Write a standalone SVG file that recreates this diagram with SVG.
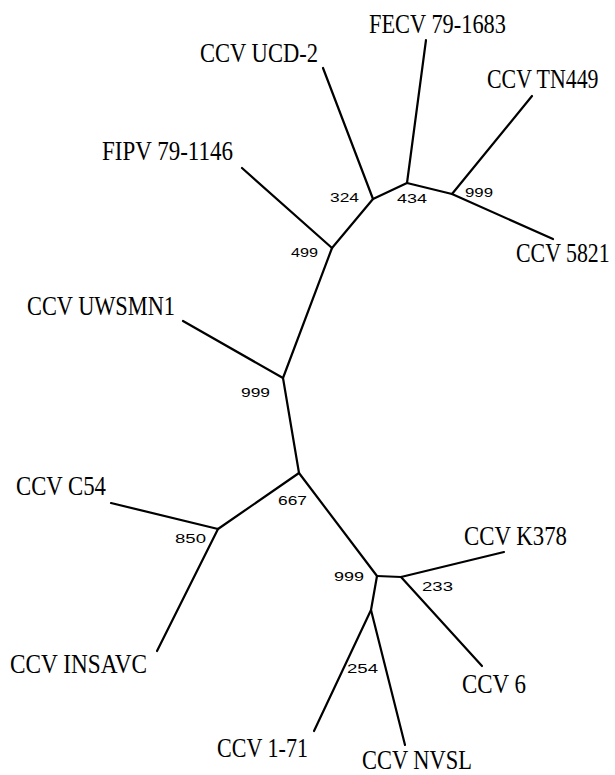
<svg xmlns="http://www.w3.org/2000/svg" width="615" height="775" viewBox="0 0 615 775">
<style>
.e{stroke:#000;stroke-width:2.2;fill:none;stroke-linecap:round;stroke-linejoin:round}
.t{font-family:"Liberation Serif","Times New Roman",serif;font-size:27px;fill:#000}
.b{font-family:"Liberation Sans",Arial,sans-serif;font-size:12px;fill:#000}
</style>
<rect width="615" height="775" fill="#fff"/>
<g id="connectors">
<path class="e" d="M332,248 L283,378 L299,473 L377,576"/>
<path class="e" d="M332,248 L373,199 L407,183 L452,194"/>
<path class="e" d="M332,248 L242,168"/>
<path class="e" d="M373,199 L323,68"/>
<path class="e" d="M407,183 L426,40"/>
<path class="e" d="M452,194 L532,96"/>
<path class="e" d="M452,194 L553,239"/>
<path class="e" d="M283,378 L183,321"/>
<path class="e" d="M299,473 L218,529 L111,503"/>
<path class="e" d="M218,529 L157,651"/>
<path class="e" d="M377,576 L401,577 L504,552"/>
<path class="e" d="M401,577 L482,666"/>
<path class="e" d="M377,576 L371,610 L314,731"/>
<path class="e" d="M371,610 L405,745"/>
</g>
<g id="leaf-ucd2"><text class="t" x="200" y="62" textLength="118" lengthAdjust="spacingAndGlyphs">CCV UCD-2</text></g>
<g id="leaf-fecv"><text class="t" x="369" y="33" textLength="137" lengthAdjust="spacingAndGlyphs">FECV 79-1683</text></g>
<g id="leaf-tn449"><text class="t" transform="translate(487,88) scale(0.81,1)">CCV TN449</text></g>
<g id="leaf-fipv"><text class="t" x="102" y="160" textLength="131" lengthAdjust="spacingAndGlyphs">FIPV 79-1146</text></g>
<g id="leaf-5821"><text class="t" transform="translate(516,262) scale(0.81,1)">CCV 5821</text></g>
<g id="leaf-uwsmn1"><text class="t" x="27" y="315" textLength="148" lengthAdjust="spacingAndGlyphs">CCV UWSMN1</text></g>
<g id="leaf-c54"><text class="t" x="16" y="495" textLength="90" lengthAdjust="spacingAndGlyphs">CCV C54</text></g>
<g id="leaf-insavc"><text class="t" x="10" y="673" textLength="137" lengthAdjust="spacingAndGlyphs">CCV INSAVC</text></g>
<g id="leaf-k378"><text class="t" x="464" y="545" textLength="103" lengthAdjust="spacingAndGlyphs">CCV K378</text></g>
<g id="leaf-6"><text class="t" x="462" y="693" textLength="64" lengthAdjust="spacingAndGlyphs">CCV 6</text></g>
<g id="leaf-171"><text class="t" x="217" y="757" textLength="91" lengthAdjust="spacingAndGlyphs">CCV 1-71</text></g>
<g id="leaf-nvsl"><text class="t" x="362" y="769" textLength="110" lengthAdjust="spacingAndGlyphs">CCV NVSL</text></g>
<g id="bootstrap">
<text class="b" x="330" y="202" textLength="29" lengthAdjust="spacingAndGlyphs">324</text>
<text class="b" x="397" y="203" textLength="30" lengthAdjust="spacingAndGlyphs">434</text>
<text class="b" x="465" y="197" textLength="28" lengthAdjust="spacingAndGlyphs">999</text>
<text class="b" x="291" y="257" textLength="27" lengthAdjust="spacingAndGlyphs">499</text>
<text class="b" x="241" y="397" textLength="29" lengthAdjust="spacingAndGlyphs">999</text>
<text class="b" x="278" y="505" textLength="29" lengthAdjust="spacingAndGlyphs">667</text>
<text class="b" x="175" y="543" textLength="31" lengthAdjust="spacingAndGlyphs">850</text>
<text class="b" x="334" y="581" textLength="30" lengthAdjust="spacingAndGlyphs">999</text>
<text class="b" x="422" y="591" textLength="31" lengthAdjust="spacingAndGlyphs">233</text>
<text class="b" x="347" y="673" textLength="31" lengthAdjust="spacingAndGlyphs">254</text>
</g>
</svg>
